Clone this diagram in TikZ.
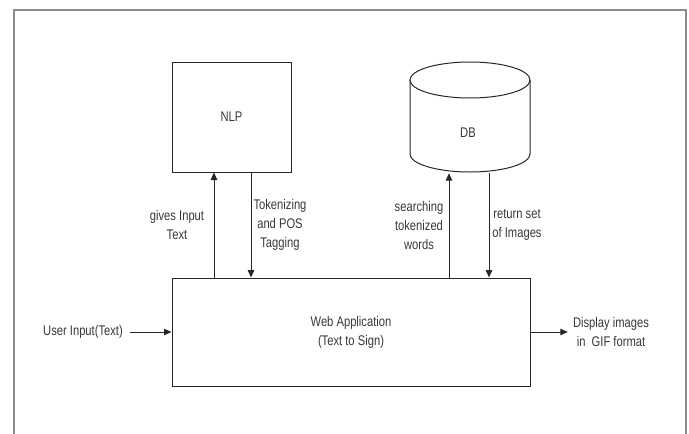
\documentclass[tikz,border=0pt]{standalone}
\usepackage{fontspec}
\setmainfont[FakeStretch=0.8]{Liberation Sans}
\usetikzlibrary{arrows.meta}
\begin{document}
\begin{tikzpicture}[x=1pt,y=-1pt,
  line/.style={draw=black!85, line width=1pt},
  arr/.style={line, -{Triangle[length=7.5pt,width=6.5pt]}},
  lbl/.style={text=black!78, font=\fontsize{14}{19}\selectfont, align=center, inner sep=0pt},
  box/.style={line, rectangle, inner sep=0pt, text=black!78, font=\fontsize{14}{19}\selectfont, align=center}]
\useasboundingbox (0,0) rectangle (689,434);
% outer frame
\draw[draw=black!45, line width=1.5pt] (14,440) -- (14,10) -- (686,10) -- (686,440);
% nodes
\node[box, minimum width=119pt, minimum height=110pt] (nlp) at (231.5,117) {NLP};
\node[box, minimum width=358pt, minimum height=108pt] (web) at (351,332) {Web Application\\(Text to Sign)};
\node[inner sep=0pt, minimum width=120pt, minimum height=110pt] (db) at (470,117) {};
\draw[line] (470,80) ellipse [x radius=60, y radius=18];
\draw[line] (410,80) -- (410,154) arc[start angle=180, end angle=0, x radius=60, y radius=18] -- (530,80);
\node[lbl] (dblabel) at (468,133) {DB};
% labels
\node[lbl] (l1) at (177,225) {gives Input\\Text};
\node[lbl] (l2) at (280,225) {Tokenizing\\and POS\\Tagging};
\node[lbl] (l3) at (419,225) {searching\\tokenized\\words};
\node[lbl] (l4) at (517,225) {return set\\of Images};
\node[lbl] (ui) at (83,332) {User Input(Text)};
\node[lbl] (disp) at (611,332) {Display images\\in~~GIF format};
% connector x positions
\coordinate (c1) at (214,0);
\coordinate (c2) at (251,0);
\coordinate (c3) at (449,0);
\coordinate (c4) at (489,0);
% connectors
\draw[arr] (web.north -| c1) -- (nlp.south -| c1);
\draw[arr] (nlp.south -| c2) -- (web.north -| c2);
\draw[arr] (web.north -| c3) -- ([yshift=-1pt]db.south -| c3);
\draw[arr] ([yshift=-1pt]db.south -| c4) -- (web.north -| c4);
\draw[arr] ([xshift=7pt]ui.east) -- (web.west);
\draw[arr] (web.east) -- ([xshift=-5pt]disp.west);
\end{tikzpicture}
\end{document}
